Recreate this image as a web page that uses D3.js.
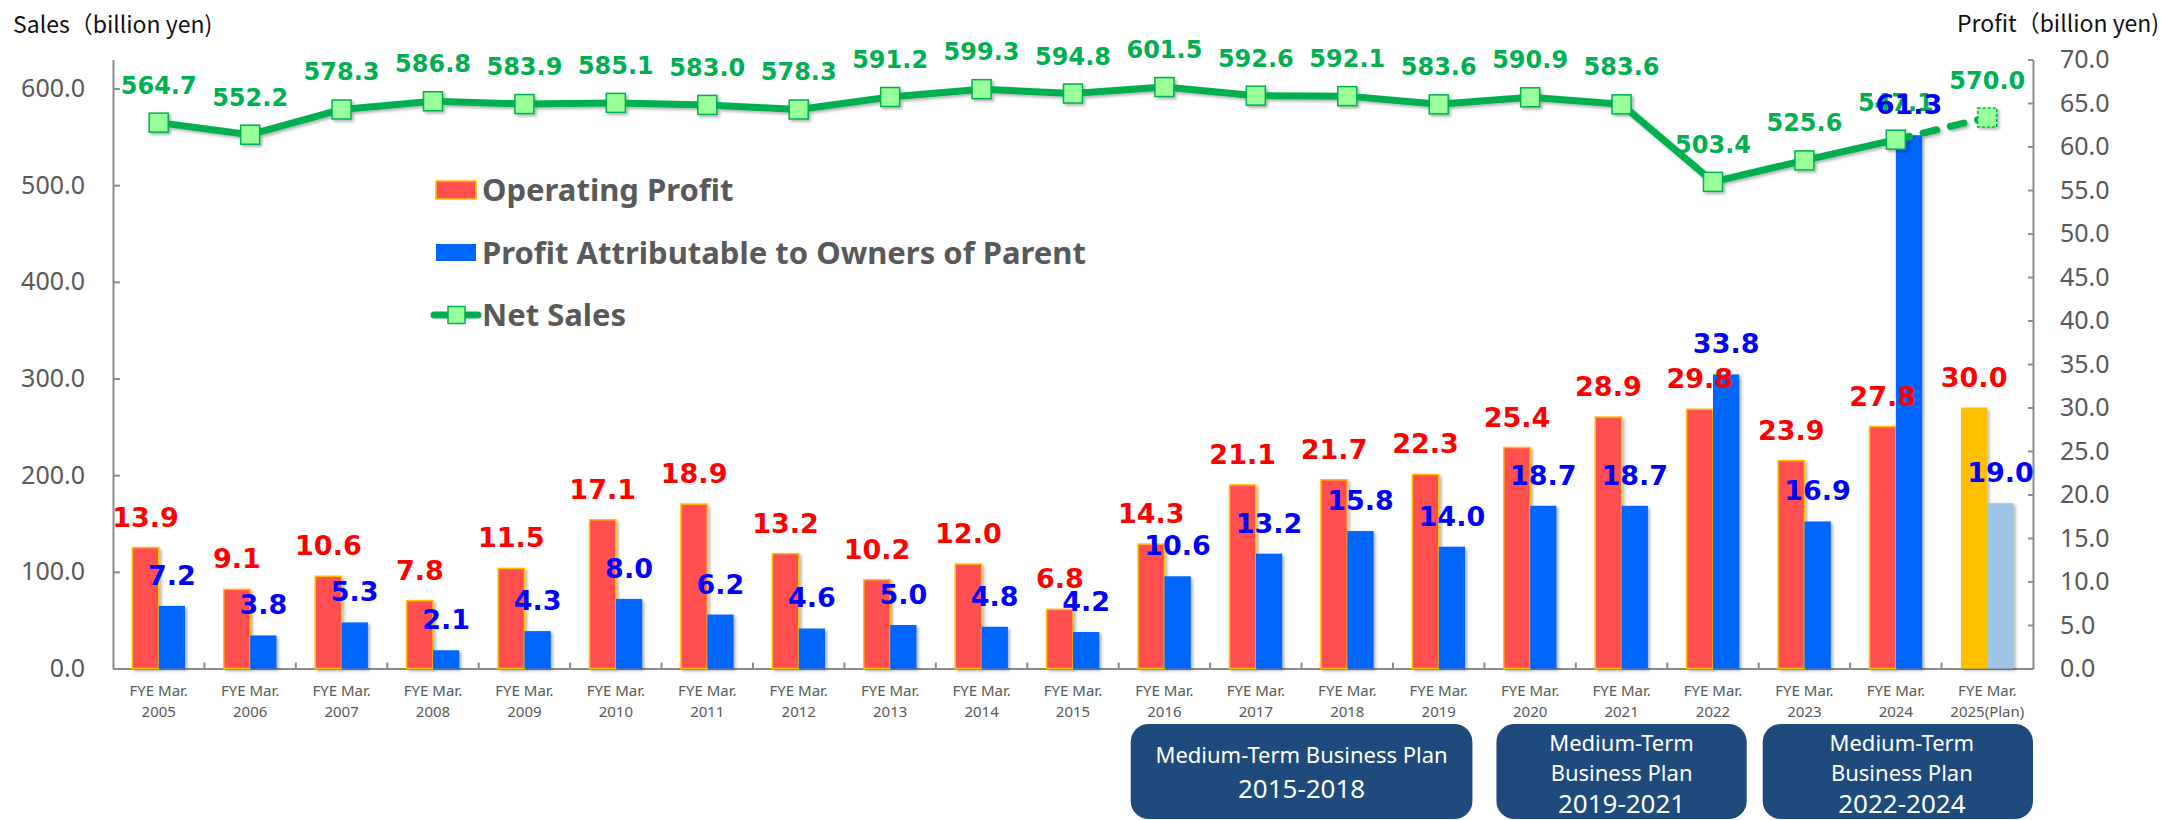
<!DOCTYPE html>
<html lang="en">
<head>
<meta charset="utf-8">
<title>Sales and Profit</title>
<script src="https://cdn.jsdelivr.net/npm/d3@7"></script>
<style>
  body { margin: 0; background: #fff; }
  .axis path, .axis line { stroke: #8c8c8c; stroke-width: 2; fill: none; }
  .axis text { font-family: "Noto Sans", sans-serif; font-size: 25px; fill: #595959; }
  .axis text.xlab { font-family: "Noto Sans", sans-serif; font-size: 15px; fill: #595959; }
  .title { font-family: "Noto Sans CJK JP", "Noto Sans", sans-serif; font-size: 23px; fill: #111; }
  .legend text { font-family: "Noto Sans", sans-serif; font-size: 31px; font-weight: bold; fill: #595959; }
  .plan text { font-family: "Noto Sans", sans-serif; fill: #fff; }
</style>
</head>
<body>
<script>
// categories
var years = ["2005","2006","2007","2008","2009","2010","2011","2012","2013","2014","2015",
             "2016","2017","2018","2019","2020","2021","2022","2023","2024","2025(Plan)"];
var yearPrefix = "FYE Mar.";

// series (billion yen)
var operatingProfit = [13.9, 9.1, 10.6, 7.8, 11.5, 17.1, 18.9, 13.2, 10.2, 12.0, 6.8,
                       14.3, 21.1, 21.7, 22.3, 25.4, 28.9, 29.8, 23.9, 27.8, 30.0];
var netProfit = [7.2, 3.8, 5.3, 2.1, 4.3, 8.0, 6.2, 4.6, 5.0, 4.8, 4.2,
                 10.6, 13.2, 15.8, 14.0, 18.7, 18.7, 33.8, 16.9, 61.3, 19.0];
var netSales = [564.7, 552.2, 578.3, 586.8, 583.9, 585.1, 583.0, 578.3, 591.2, 599.3, 594.8,
                601.5, 592.6, 592.1, 583.6, 590.9, 583.6, 503.4, 525.6, 547.1, 570.0];

// axis ticks
var salesTicks = [0, 100, 200, 300, 400, 500, 600];
var profitTicks = [0, 5, 10, 15, 20, 25, 30, 35, 40, 45, 50, 55, 60, 65, 70];

// medium-term plans
var planLines = [["Medium-Term Business Plan"], ["Medium-Term", "Business Plan"], ["Medium-Term", "Business Plan"]];
var planYears = ["2015-2018", "2019-2021", "2022-2024"];
var planFrom = ["2016", "2020", "2023"];
var planTo = ["2019", "2022", "2025(Plan)"];

var legendNames = ["Operating Profit", "Profit Attributable to Owners of Parent", "Net Sales"];

var W = 2175, H = 820;
var svg = d3.select("body").append("svg").attr("width", W).attr("height", H);

var defs = svg.append("defs");
var f = defs.append("filter").attr("id", "shadow")
  .attr("x", "-20%").attr("y", "-20%").attr("width", "150%").attr("height", "150%");
f.append("feDropShadow").attr("dx", 2).attr("dy", 2).attr("stdDeviation", 1.5)
  .attr("flood-color", "#000").attr("flood-opacity", 0.3);

var x = d3.scaleBand().domain(years).range([113, 2033]);
var xSub = d3.scaleBand().domain([0, 1]).range([0, x.bandwidth()]).paddingOuter(0.735);
var ySales = d3.scaleLinear().domain([0, 630]).range([668.5, 59.5]);
var yProfit = d3.scaleLinear().domain([0, 70]).range([668.5, 59.5]);

// titles
svg.append("text").attr("class", "title").attr("x", 13).attr("y", 33).text("Sales（billion yen)");
svg.append("text").attr("class", "title").attr("x", 1957).attr("y", 32).text("Profit（billion yen)");

// axes
svg.append("g").attr("class", "axis")
  .attr("transform", "translate(113,0)")
  .call(d3.axisLeft(ySales).tickValues(salesTicks).tickFormat(d3.format(".1f"))
    .tickSizeInner(-7).tickSizeOuter(0).tickPadding(28));

svg.append("g").attr("class", "axis")
  .attr("transform", "translate(2033,0)")
  .call(d3.axisRight(yProfit).tickValues(profitTicks).tickFormat(d3.format(".1f"))
    .tickSizeInner(-5).tickSizeOuter(0).tickPadding(27));

var xAxis = svg.append("g").attr("class", "axis")
  .attr("transform", "translate(0,668.5)")
  .call(d3.axisBottom(x).tickSize(0).tickFormat(""));
xAxis.selectAll(".tick").each(function(d) {
  var t = d3.select(this).append("text").attr("class", "xlab").attr("text-anchor", "middle");
  t.append("tspan").attr("x", 0).attr("y", 27).text(yearPrefix);
  t.append("tspan").attr("x", 0).attr("y", 48).text(d);
});
xAxis.selectAll(".bound").data(years.slice(1)).enter().append("line")
  .attr("x1", function(d) { return x(d); }).attr("x2", function(d) { return x(d); })
  .attr("y1", 0).attr("y2", -6);

// bars
var last = years.length - 1;
var groups = svg.append("g").selectAll("g").data(years).enter().append("g")
  .attr("transform", function(d) { return "translate(" + x(d) + ",0)"; })
  .attr("filter", "url(#shadow)");

groups.append("rect")
  .attr("x", xSub(0)).attr("width", xSub.bandwidth())
  .attr("y", function(d, i) { return yProfit(operatingProfit[i]); })
  .attr("height", function(d, i) { return yProfit(0) - yProfit(operatingProfit[i]); })
  .attr("fill", function(d, i) { return i === last ? "#FFC000" : "#FF5050"; })
  .attr("stroke", function(d, i) { return i === last ? "none" : "#FFC000"; })
  .attr("stroke-width", 1.5);

groups.append("rect")
  .attr("x", xSub(1)).attr("width", xSub.bandwidth())
  .attr("y", function(d, i) { return yProfit(netProfit[i]); })
  .attr("height", function(d, i) { return yProfit(0) - yProfit(netProfit[i]); })
  .attr("fill", function(d, i) { return i === last ? "#9DC3E6" : "#0066FF"; });

// net sales line
var cx = function(d, i) { return x(years[i]) + x.bandwidth() / 2; };
var line = d3.line().x(function(d) { return d[0]; }).y(function(d) { return d[1]; });
var pts = netSales.map(function(v, i) { return [cx(v, i), ySales(v)]; });

var lineG = svg.append("g").attr("filter", "url(#shadow)");
lineG.append("path").attr("d", line(pts.slice(0, last)))
  .attr("fill", "none").attr("stroke", "#00B050").attr("stroke-width", 7)
  .attr("stroke-linejoin", "round");
lineG.append("path").attr("d", line(pts.slice(last - 1)))
  .attr("fill", "none").attr("stroke", "#00B050").attr("stroke-width", 7)
  .attr("stroke-dasharray", "14,14").attr("stroke-linecap", "round");

lineG.selectAll("rect").data(netSales).enter().append("rect")
  .attr("x", function(d, i) { return cx(d, i) - 9.5; })
  .attr("y", function(d) { return ySales(d) - 9.5; })
  .attr("width", 19).attr("height", 19)
  .attr("fill", "#99FF99").attr("stroke", "#00B050").attr("stroke-width", 1.5)
  .attr("stroke-dasharray", function(d, i) { return i === last ? "3,2" : null; });

// labels
svg.append("g").selectAll("text").data(netSales).enter().append("text")
  .attr("x", cx).attr("y", function(d) { return ySales(d) - 29; })
  .attr("text-anchor", "middle")
  .attr("font-family", "DejaVu Sans, sans-serif").attr("font-weight", "bold").attr("font-size", 24)
  .attr("fill", "#00B050")
  .text(function(d) { return d.toFixed(1); });

svg.append("g").selectAll("text").data(operatingProfit).enter().append("text")
  .attr("x", function(d, i) { return x(years[i]) + xSub(0) + xSub.bandwidth() / 2; })
  .attr("y", function(d) { return yProfit(d) - 21; })
  .attr("text-anchor", "middle")
  .attr("font-family", "DejaVu Sans, sans-serif").attr("font-weight", "bold").attr("font-size", 27)
  .attr("fill", "#FF0000")
  .text(function(d) { return d.toFixed(1); });

svg.append("g").selectAll("text").data(netProfit).enter().append("text")
  .attr("x", function(d, i) { return x(years[i]) + xSub(1) + xSub.bandwidth() / 2; })
  .attr("y", function(d) { return yProfit(d) - 21; })
  .attr("text-anchor", "middle")
  .attr("font-family", "DejaVu Sans, sans-serif").attr("font-weight", "bold").attr("font-size", 27)
  .attr("fill", "#0000FF")
  .text(function(d) { return d.toFixed(1); });

// legend
var lg = svg.append("g").attr("class", "legend");
lg.append("rect").attr("x", 436).attr("y", 181).attr("width", 40).attr("height", 18)
  .attr("fill", "#FF5050").attr("stroke", "#FFC000").attr("stroke-width", 1.5);
lg.append("rect").attr("x", 436).attr("y", 244).attr("width", 40).attr("height", 17)
  .attr("fill", "#0066FF");
lg.append("line").attr("x1", 434).attr("x2", 478).attr("y1", 315).attr("y2", 315)
  .attr("stroke", "#00B050").attr("stroke-width", 7).attr("stroke-linecap", "round");
lg.append("rect").attr("x", 448).attr("y", 306.5).attr("width", 17).attr("height", 17)
  .attr("fill", "#99FF99").attr("stroke", "#00B050").attr("stroke-width", 1.5);
lg.selectAll("text").data(legendNames).enter().append("text")
  .attr("x", 482).attr("y", function(d, i) { return 201 + i * 62.5; })
  .text(function(d) { return d; });

// medium-term plan boxes
var plan = svg.append("g").attr("class", "plan").selectAll("g").data(planYears).enter().append("g");
var boxLeft = function(i) { return Math.max(x(planFrom[i]) + 12, 113); };
var boxRight = function(i) { return i === planYears.length - 1 ? 2033 : x(planTo[i]) + x.bandwidth() - 12; };
plan.append("rect")
  .attr("x", function(d, i) { return boxLeft(i) - (i === planYears.length - 1 ? 8 : 0); })
  .attr("y", 724)
  .attr("width", function(d, i) { return boxRight(i) - boxLeft(i) + (i === planYears.length - 1 ? 8 : 0); })
  .attr("height", 95).attr("rx", 18)
  .attr("fill", "#1F4A7C");
plan.each(function(d, i) {
  var g = d3.select(this);
  var mid = (boxLeft(i) + boxRight(i)) / 2;
  var lines = planLines[i];
  var y0 = lines.length === 1 ? 763 : 751;
  lines.forEach(function(s, j) {
    g.append("text").attr("x", mid).attr("y", y0 + j * 30).attr("text-anchor", "middle")
      .attr("font-size", 22).text(s);
  });
  g.append("text").attr("x", mid).attr("y", lines.length === 1 ? 798 : 813)
    .attr("text-anchor", "middle").attr("font-size", 26).text(d);
});
</script>
</body>
</html>
